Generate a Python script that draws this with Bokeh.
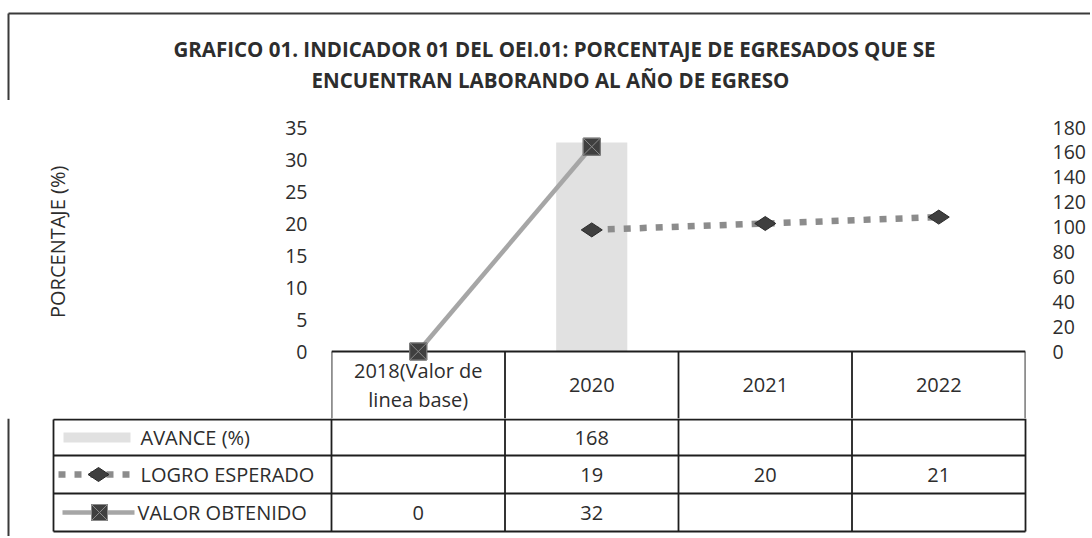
import numpy as np
from bokeh.plotting import figure
from bokeh.models import Range1d, FactorRange, LinearAxis, FixedTicker, ColumnDataSource
from bokeh.embed import file_html
from bokeh.resources import INLINE
from bokeh.core.properties import value

# ---------------- data ----------------
categories = ["2018(Valor de\nlinea base)", "2020", "2021", "2022"]
avance = [np.nan, 168, np.nan, np.nan]
logro_esperado = [np.nan, 19, 20, 21]
valor_obtenido = [0, 32, np.nan, np.nan]
series_names = ["AVANCE (%)", "LOGRO ESPERADO", "VALOR OBTENIDO"]
left_ticks = [0, 5, 10, 15, 20, 25, 30, 35]
right_ticks = [0, 20, 40, 60, 80, 100, 120, 140, 160, 180]
title_lines = ["GRAFICO 01. INDICADOR 01 DEL OEI.01: PORCENTAJE DE EGRESADOS QUE SE",
               "ENCUENTRAN LABORANDO AL AÑO DE EGRESO"]
y_label = "PORCENTAJE (%)"

# ---------------- style / layout ----------------
FONT = "Open Sans"
TXT = "#2d2d2d"
GRID = "#1e1e1e"
EDGE = "#3a3a3a"
BAR = "#e1e1e1"
VAL_LINE = "#a6a6a6"
LOG_LINE = "#8c8c8c"
MARK = "#3f3f3f"
W = 1090
H_TITLE, H_CHART, H_TABLE = 100, 318, 118
FR_L, FR_R = 331, 1025          # frame left / right
FR_TOP, ZERO_Y = 27, 251        # frame top and y of value 0 inside chart figure
HEADER_MID = 33.5               # px below the zero line: centre of the header row
LEFT_MAX, RIGHT_MAX = left_ticks[-1], right_ticks[-1]
ppu = (ZERO_Y - FR_TOP) / LEFT_MAX
y_start = -(H_CHART - ZERO_Y) / ppu
n = len(categories)
col_w = (FR_R - FR_L) / n
FS = "19.5px"
FS_T = "20px"
DASH = "7 9"
BORDER_X = 8
LW = 1.8
LABEL_SHIFT = "\u00a0" * 12     # keeps the axis title centred on the plotted part


def blank(h):
    f = figure(width=W, height=h, x_range=Range1d(0, W), y_range=Range1d(h, 0),
               output_backend="svg", toolbar_location=None,
               x_axis_location=None, y_axis_location=None,
               min_border_left=0, min_border_right=0, min_border_top=0, min_border_bottom=0,
               outline_line_color=None, background_fill_color=None, border_fill_color=None)
    f.grid.visible = False
    return f


# ---------------- title ----------------
tfig = blank(H_TITLE)
tfig.segment(x0=[BORDER_X, BORDER_X], y0=[13, 13], x1=[W, BORDER_X], y1=[13, H_TITLE],
             line_color=EDGE, line_width=2)
tfig.text(x=[554, 550], y=[48, 79], text=title_lines, text_align="center",
          text_baseline="middle", text_font=value(FONT), text_font_size="20.5px",
          text_font_style="bold", text_color=TXT)

# ---------------- chart ----------------
src = ColumnDataSource(dict(cat=categories, avance=avance, logro=logro_esperado,
                            valor=valor_obtenido))

p = figure(width=W, height=H_CHART, x_range=FactorRange(factors=categories),
           y_range=Range1d(y_start, LEFT_MAX), x_axis_location=None,
           output_backend="svg", toolbar_location=None,
           min_border_left=FR_L, min_border_right=W - FR_R,
           min_border_top=FR_TOP, min_border_bottom=0,
           outline_line_color=None, background_fill_color=None, border_fill_color=None)
p.grid.visible = False
p.extra_y_ranges = {"right": Range1d(y_start * RIGHT_MAX / LEFT_MAX, RIGHT_MAX)}
ra = LinearAxis(y_range_name="right")
p.add_layout(ra, "right")

for ax, ticks, standoff in ((p.yaxis[0], left_ticks, 24), (ra, right_ticks, 27)):
    ax.ticker = FixedTicker(ticks=ticks)
    ax.axis_line_color = None
    ax.major_tick_line_color = None
    ax.minor_tick_line_color = None
    ax.major_tick_out = 0
    ax.major_tick_in = 0
    ax.major_label_standoff = standoff
    ax.major_label_text_font = FONT
    ax.major_label_text_font_size = FS
    ax.major_label_text_color = TXT

lax = p.yaxis[0]
lax.axis_label = LABEL_SHIFT + y_label
lax.axis_label_text_font = FONT
lax.axis_label_text_font_style = "normal"
lax.axis_label_text_font_size = "20px"
lax.axis_label_text_color = TXT
lax.axis_label_standoff = 211

# bar
p.vbar(x="cat", top="avance", bottom=0, width=0.41, y_range_name="right",
       fill_color=BAR, line_color=None, source=src)
# data-table header row (categories) directly under the plot
p.segment(x0=[0], y0=[0], x1=[n], y1=[0], line_color=GRID, line_width=LW)
p.segment(x0=list(range(n + 1)), y0=[0] * (n + 1), x1=list(range(n + 1)),
          y1=[y_start] * (n + 1), line_color=GRID, line_width=LW)
p.text(x=categories, y=[-HEADER_MID / ppu] * n, text=categories, text_align="center",
       text_baseline="middle", text_font=value(FONT), text_font_size=FS_T,
       text_color=TXT, text_line_height=1.05)
# lines
p.line(x="cat", y="valor", source=src, line_color=VAL_LINE, line_width=4.5)
p.line(x="cat", y="logro", source=src, line_color=LOG_LINE, line_width=6.5,
       line_dash=DASH, line_cap="butt")
# markers
p.scatter(x="cat", y="valor", source=src, marker="square", size=17,
          fill_color=MARK, line_color="#2a2a2a")
p.scatter(x="cat", y="valor", source=src, marker="square_x", size=17,
          fill_color=None, line_color="#8a8a8a", line_width=1)
p.scatter(x="cat", y="logro", source=src, marker="diamond", size=21, angle=np.pi / 2,
          fill_color=MARK, line_color="#2a2a2a")

# ---------------- data table rows ----------------
tb = blank(H_TABLE)
ROW_Y = [1, 37, 75, 113]
LABEL_L = 53
col_edges = [FR_L + i * col_w for i in range(n + 1)]
col_mid = [FR_L + (i + 0.5) * col_w for i in range(n)]

tb.segment(x0=[BORDER_X], y0=[0], x1=[BORDER_X], y1=[H_TABLE], line_color=EDGE,
           line_width=2)
tb.segment(x0=col_edges, y0=[0] * (n + 1), x1=col_edges, y1=[ROW_Y[-1]] * (n + 1),
           line_color=GRID, line_width=LW)
tb.segment(x0=[LABEL_L], y0=[ROW_Y[0]], x1=[LABEL_L], y1=[ROW_Y[-1]],
           line_color=GRID, line_width=LW)
tb.segment(x0=[LABEL_L] * len(ROW_Y), y0=ROW_Y, x1=[FR_R] * len(ROW_Y), y1=ROW_Y,
           line_color=GRID, line_width=LW)

row_mid = [(ROW_Y[i] + ROW_Y[i + 1]) / 2 for i in range(3)]


def fmt(v):
    return "" if v is None or (isinstance(v, float) and np.isnan(v)) else f"{v:g}"


for r, series in enumerate((avance, logro_esperado, valor_obtenido)):
    labels = [fmt(v) for v in series]
    tb.text(x=col_mid, y=[row_mid[r]] * n, text=labels, text_align="center",
            text_baseline="middle", text_font=value(FONT), text_font_size=FS_T,
            text_color=TXT)

# legend keys
tb.rect(x=[96.5], y=[row_mid[0]], width=67, height=10, fill_color=BAR, line_color=None)
tb.segment(x0=[58], y0=[row_mid[1]], x1=[137], y1=[row_mid[1]], line_color=LOG_LINE,
           line_width=6.5, line_dash=DASH, line_cap="butt")
tb.scatter(x=[98], y=[row_mid[1]], marker="diamond", size=21, angle=np.pi / 2,
           fill_color=MARK, line_color="#2a2a2a")
tb.segment(x0=[62], y0=[row_mid[2]], x1=[134], y1=[row_mid[2]], line_color=VAL_LINE,
           line_width=4.5)
tb.scatter(x=[99], y=[row_mid[2]], marker="square", size=16, fill_color=MARK,
           line_color="#2a2a2a")
tb.scatter(x=[99], y=[row_mid[2]], marker="square_x", size=16, fill_color=None,
           line_color="#8a8a8a", line_width=1)

tb.text(x=[140, 140, 137], y=row_mid, text=series_names, text_align="left",
        text_baseline="middle", text_font=value(FONT), text_font_size=FS_T,
        text_color=TXT)

with open("out.html", "w") as fh:
    fh.write(file_html([tfig, p, tb], INLINE))
